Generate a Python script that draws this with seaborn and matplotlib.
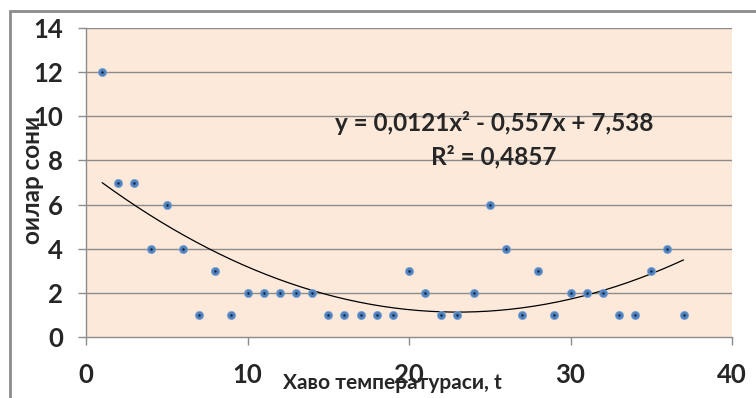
import numpy as np
import pandas as pd
import matplotlib
matplotlib.use("Agg")
import matplotlib.pyplot as plt
import seaborn as sns
from matplotlib.patches import Rectangle

# Data
temperature = list(range(1, 38))
families = [12, 7, 7, 4, 6, 4, 1, 3, 1, 2, 2, 2, 2, 2, 1, 1, 1, 1, 1, 3,
            2, 1, 1, 2, 6, 4, 1, 3, 1, 2, 2, 2, 1, 1, 3, 4, 1]
x_ticks = [0, 10, 20, 30, 40]
y_ticks = [0, 2, 4, 6, 8, 10, 12, 14]
x_label = "Хаво температураси, t"
y_label = "оилар сони"
eq_text = "y = 0,0121x² - 0,557x + 7,538"
r2_text = "R² = 0,4857"

df = pd.DataFrame({"t": temperature, "n": families})

sns.set_theme(style="white")
plt.rcParams["font.family"] = ["Lato", "DejaVu Sans"]

fig = plt.figure(figsize=(7.56, 3.98), dpi=100)
ax = fig.add_axes([86/756, 1-337/398, (732-86)/756, (337-28)/398])
ax.set_facecolor("#FDE9D9")

# frame of chart
fig.patches.append(Rectangle((10/756, -0.1), 1.2, (1-11/398)+0.1, transform=fig.transFigure,
                             fill=False, edgecolor="#8c8c8c", linewidth=2))

for yv in y_ticks[1:]:
    ax.axhline(yv, color="#8c8c8c", linewidth=1.0, zorder=1)

# trendline from data
coef = np.polyfit(df["t"], df["n"], 2)
xs = np.linspace(min(temperature), max(temperature), 200)
trend = pd.DataFrame({"t": xs, "n": np.polyval(coef, xs)})
sns.lineplot(data=trend, x="t", y="n", ax=ax, color="black", linewidth=0.9, zorder=2)

sns.scatterplot(data=df, x="t", y="n", ax=ax, color="#4F81BD", s=34, edgecolor="#79a3d6",
                linewidth=0.6, zorder=3)
sns.scatterplot(data=df, x="t", y="n", ax=ax, color="#10203a", s=3, linewidth=0, zorder=4)

ax.set_xlim(0, 40)
ax.set_ylim(0, 14)
ax.set_xticks(x_ticks)
ax.set_yticks(y_ticks)
ax.set_xticklabels([str(v) for v in x_ticks], fontsize=18.5, fontweight="bold")
ax.set_yticklabels([str(v) for v in y_ticks], fontsize=18.5, fontweight="bold")
ax.tick_params(axis="both", which="both", length=5.5, width=1, color="#8c8c8c",
               direction="out", bottom=True, left=True)
ax.tick_params(axis="x", pad=13)
ax.tick_params(axis="y", pad=11)
ax.set_xlabel("")
ax.set_ylabel("")

for side in ["top", "right"]:
    ax.spines[side].set_visible(False)
for side in ["left", "bottom"]:
    ax.spines[side].set_color("#8c8c8c")
    ax.spines[side].set_linewidth(1.0)

fig.text(392/756, 1-383/398, x_label, ha="center", va="center", fontsize=15, fontweight="bold")
fig.text(33/756, 1-180/398, y_label, ha="center", va="center", rotation=90, fontsize=17.5,
         fontweight="bold")

fig.text(494/756, 1-123/398, eq_text, ha="center", va="center", fontsize=17.5, fontweight="bold")
fig.text(494/756, 1-157/398, r2_text, ha="center", va="center", fontsize=17.5, fontweight="bold")

fig.savefig("out.png", dpi=100)
